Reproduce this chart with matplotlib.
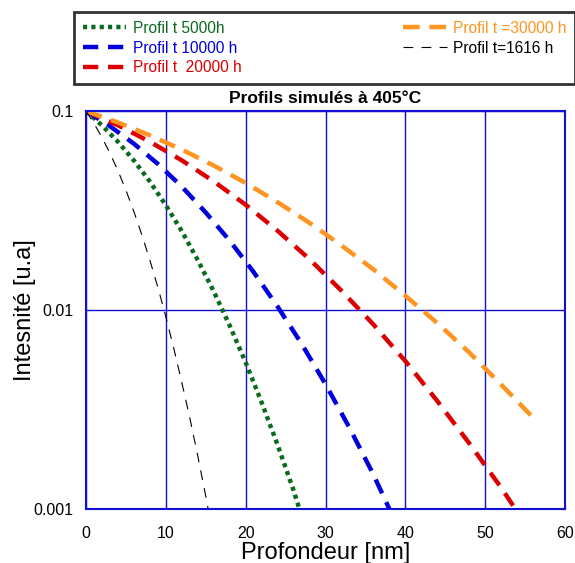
import matplotlib
matplotlib.use('Agg')
import matplotlib.pyplot as plt
from matplotlib.ticker import FixedLocator, FixedFormatter, NullLocator

plt.rcParams['font.family'] = ['Liberation Sans', 'DejaVu Sans']
plt.rcParams['lines.scale_dashes'] = False

# profils simulés
x_1616 = [0, 1, 2, 3, 4, 5, 6, 7, 8, 9, 10, 11, 12, 13, 14, 15, 15.3]
y_1616 = [0.1, 0.0866, 0.0736, 0.0614, 0.0501, 0.0400, 0.0312, 0.0238, 0.0178,
          0.0130, 0.00925, 0.0064, 0.00432, 0.00287, 0.00185, 0.00116, 0.0010]

x_5000 = [0, 2, 4, 6, 8, 10, 12, 14, 16, 18, 20, 22, 24, 26, 26.8]
y_5000 = [0.1, 0.0847, 0.0700, 0.0564, 0.0442, 0.0336, 0.0249, 0.0178, 0.0124,
          0.00835, 0.00545, 0.00343, 0.0021, 0.00124, 0.00098]

x_10000 = [0, 3, 6, 9, 12, 15, 18, 21, 24, 27, 30, 33, 36, 38]
y_10000 = [0.1, 0.0839, 0.0685, 0.0542, 0.0417, 0.0309, 0.0223, 0.0155, 0.0104,
           0.00677, 0.00424, 0.00256, 0.00149, 0.0010]

x_20000 = [0, 4, 8, 12, 16, 20, 24, 28, 32, 36, 40, 44, 48, 52, 53.5]
y_20000 = [0.1, 0.0848, 0.0701, 0.0565, 0.0443, 0.0338, 0.0250, 0.0180, 0.0125,
           0.00846, 0.00554, 0.00349, 0.00214, 0.00128, 0.00104]

x_30000 = [0, 4, 8, 12, 16, 20, 24, 28, 32, 36, 40, 44, 48, 52, 56]
y_30000 = [0.1, 0.0876, 0.0755, 0.0640, 0.0532, 0.0435, 0.0348, 0.0274, 0.0211,
           0.0160, 0.0118, 0.0086, 0.00612, 0.00422, 0.00288]

xticks = [0, 10, 20, 30, 40, 50, 60]
yticks = [0.001, 0.01, 0.1]
ytick_labels = ['0.001', '0.01', '0.1']

green = '#0b6a1f'
blue = '#0000dd'
red = '#dd0000'
orange = '#ff9421'
axcol = '#1010d0'

fig = plt.figure(figsize=(5.75, 5.63), dpi=100)
ax = fig.add_axes([0.1496, 0.0959, 0.8330, 0.7069])

ax.plot(x_5000, y_5000, color=green, lw=3.2, dashes=(3, 3), label='Profil t 5000h')
ax.plot(x_10000, y_10000, color=blue, lw=3.2, dashes=(11, 7), label='Profil t 10000 h')
ax.plot(x_20000, y_20000, color=red, lw=3.2, dashes=(11, 7), label='Profil t  20000 h')
ax.plot(x_30000, y_30000, color=orange, lw=3.2, dashes=(12, 7), label='Profil t =30000 h')
ax.plot(x_1616, y_1616, color='black', lw=0.8, dashes=(7, 6), label='Profil t=1616 h')

ax.set_yscale('log')
ax.set_xlim(0, 60)
ax.set_ylim(0.001, 0.1)
ax.xaxis.set_major_locator(FixedLocator(xticks))
ax.yaxis.set_major_locator(FixedLocator(yticks))
ax.yaxis.set_major_formatter(FixedFormatter(ytick_labels))
ax.yaxis.set_minor_locator(NullLocator())
ax.grid(True, color=axcol, lw=1)
ax.set_axisbelow(True)
for s in ax.spines.values():
    s.set_color(axcol)
    s.set_linewidth(1.5)
ax.tick_params(direction='in', length=3, color=axcol, labelsize=11.5,
               top=True, right=True)
ax.tick_params(axis='x', pad=12)
ax.tick_params(axis='y', pad=9)

ax.set_title('Profils simulés à 405°C', fontsize=12.5, fontweight='bold', pad=6)
ax.set_xlabel('Profondeur [nm]', fontsize=17, labelpad=1)
ax.set_ylabel('Intesnité [u.a]', fontsize=17, labelpad=-2)

leg = fig.legend(loc='upper left', bbox_to_anchor=(0.129, 0.854, 0.871, 0.124),
                 mode='expand', ncol=2, fontsize=11.2, handlelength=2.8,
                 labelcolor='linecolor', frameon=True, fancybox=False,
                 borderaxespad=0, labelspacing=0.3, handletextpad=0.4,
                 borderpad=0.55)
leg.get_frame().set_edgecolor('black')
leg.get_frame().set_linewidth(2)

fig.savefig('out.png', dpi=100)
